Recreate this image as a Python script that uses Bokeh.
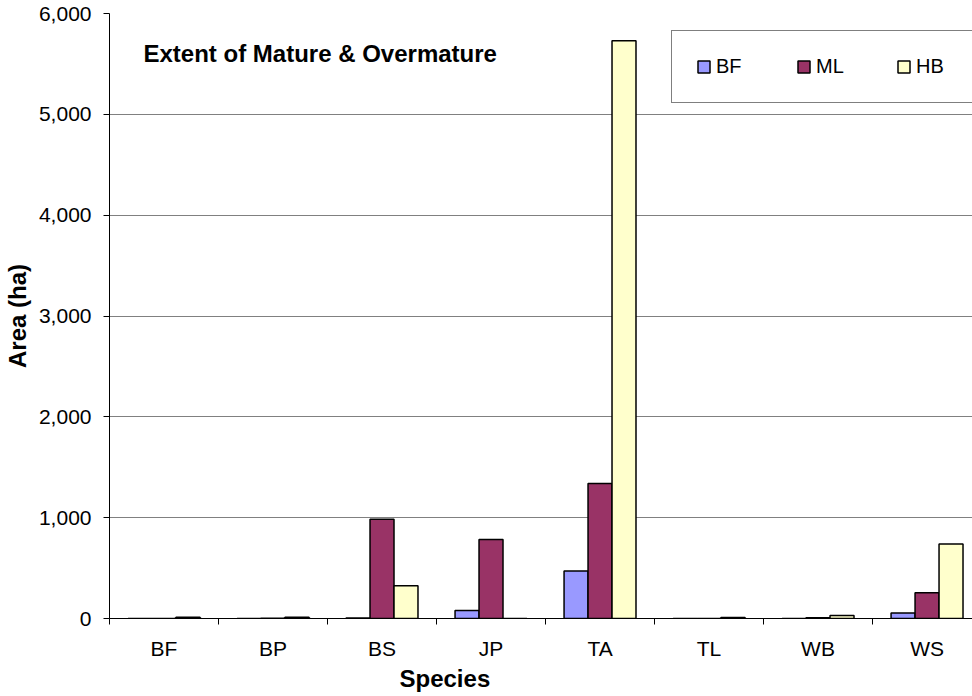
import numpy as np
from bokeh.plotting import figure
from bokeh.models import (Range1d, FixedTicker, NumeralTickFormatter, Legend,
                          LegendItem, Label, Title)
from bokeh.embed import file_html
from bokeh.resources import INLINE

species = ["BF", "BP", "BS", "JP", "TA", "TL", "WB", "WS"]
bf_vals = [0, 0, 5, 80, 470, 0, 0, 55]
ml_vals = [0, 3, 985, 784, 1340, 0, 8, 255]
hb_vals = [12, 12, 325, 0, 5730, 10, 30, 738]
y_ticks = [0, 1000, 2000, 3000, 4000, 5000, 6000]
series_names = ["BF", "ML", "HB"]
series_colors = ["#9999FF", "#993366", "#FFFFCC"]

FONT = "Liberation Sans"

p = figure(frame_width=863, frame_height=605, x_range=Range1d(0, 7.917), y_range=Range1d(0, 6000),
           output_backend="svg", toolbar_location=None,
           min_border_left=109, min_border_right=0, min_border_top=13, min_border_bottom=76)
p.outline_line_color = None
p.background_fill_color = "white"
p.border_fill_color = "white"

xc = np.arange(len(species)) + 0.5
bw = 0.22
renderers = []
for vals, off, col in zip([bf_vals, ml_vals, hb_vals], [-bw, 0, bw], series_colors):
    r = p.vbar(x=xc + off, top=vals, width=bw, bottom=0, fill_color=col,
               line_color="black", line_width=1.5)
    renderers.append(r)

# x axis
p.xaxis.ticker = FixedTicker(ticks=list(xc), minor_ticks=list(range(len(species) + 1)))
p.xaxis.major_label_overrides = {float(v): s for v, s in zip(xc, species)}
p.xaxis.major_tick_line_color = None
p.xaxis.minor_tick_line_color = "black"
p.xaxis.minor_tick_out = 6
p.xaxis.minor_tick_in = 0
p.xaxis.axis_line_color = "black"
p.xaxis.major_label_text_font = FONT
p.xaxis.major_label_text_font_size = "21px"
p.xaxis.major_label_text_color = "black"
p.xaxis.major_label_standoff = 12
p.xgrid.visible = False

# y axis
p.yaxis.ticker = FixedTicker(ticks=y_ticks, minor_ticks=[])
p.yaxis.formatter = NumeralTickFormatter(format="0,0")
p.yaxis.major_tick_out = 6
p.yaxis.major_tick_in = 0
p.yaxis.major_tick_line_color = "black"
p.yaxis.axis_line_color = "black"
p.yaxis.major_label_text_font = FONT
p.yaxis.major_label_text_font_size = "21px"
p.yaxis.major_label_text_color = "black"
p.yaxis.major_label_standoff = 12
p.yaxis.axis_label = "Area (ha)"
p.yaxis.axis_label_text_font = FONT
p.yaxis.axis_label_text_font_size = "24px"
p.yaxis.axis_label_text_font_style = "bold"
p.yaxis.axis_label_text_color = "black"
p.yaxis.axis_label_standoff = 5
p.ygrid.grid_line_color = "#808080"
p.ygrid.grid_line_width = 1

# x axis title
xt = Title(text="Species", align="left", offset=290, text_font=FONT,
           text_font_size="24px", text_font_style="bold", text_color="black", standoff=0)
p.add_layout(xt, "below")

# chart title inside plot
lab = Label(x=34, y=565, x_units="screen", y_units="screen",
            text="Extent of Mature & Overmature", text_font=FONT,
            text_font_size="24px", text_font_style="bold", text_color="black",
            text_baseline="alphabetic")
p.add_layout(lab)

legend = Legend(items=[LegendItem(label=n, renderers=[r]) for n, r in zip(series_names, renderers)],
                orientation="horizontal", location=(562, 515),
                border_line_color="black", border_line_width=1,
                background_fill_color="white", background_fill_alpha=1,
                label_text_font=FONT, label_text_font_size="20px", label_text_color="black",
                label_text_line_height=0.7,
                glyph_width=15, glyph_height=15, label_height=13,
                padding=24, spacing=20, label_standoff=5, label_width=60, margin=0)
p.add_layout(legend)

open("out.html", "w").write(file_html(p, INLINE))
